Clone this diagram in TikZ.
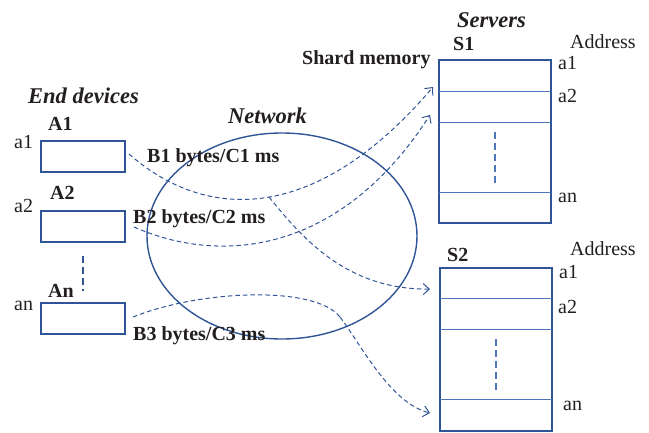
\documentclass[tikz,border=0pt]{standalone}
\usepackage{fontspec}
\setmainfont{Liberation Serif}
\usetikzlibrary{arrows.meta,shapes.geometric}
\definecolor{frame}{HTML}{2F5597}
\definecolor{rowline}{HTML}{4F76B8}
\definecolor{ink}{HTML}{231F20}
\tikzset{
  lbl/.style={inner sep=0, anchor=base west, text=ink, font=\fontsize{20}{24}\selectfont},
  blbl/.style={lbl, font=\bfseries\fontsize{20}{24}\selectfont},
  ttl/.style={lbl, font=\bfseries\itshape\fontsize{22.5}{26}\selectfont},
  devbox/.style={draw=frame, line width=2pt, minimum width=84pt, minimum height=31pt, inner sep=0},
  membox/.style={draw=frame, line width=2pt, minimum width=112pt, minimum height=163pt, inner sep=0},
  rowsep/.style={draw=rowline, line width=1pt},
  gap/.style={draw=rowline, line width=2pt, dash pattern=on 7pt off 4pt},
  flow/.style={draw=frame, line width=1pt, dash pattern=on 4.5pt off 3pt,
               -{Straight Barb[length=6pt,width=11pt]}}
}
\begin{document}
\begin{tikzpicture}[x=1pt,y=-1pt]
\useasboundingbox (0,0) rectangle (649,432);

% network cloud
\node[draw=frame, line width=1.4pt, ellipse, minimum width=270pt, minimum height=206pt, inner sep=0] (net) at (282,236) {};
\node[ttl] (nettitle) at (228,123) {Network};

% end devices
\node[ttl] (devtitle) at (28,103) {End devices};
\node[devbox] (A1) at (83,156.5) {};
\node[devbox] (A2) at (83,226) {};
\node[devbox] (An) at (83,318.5) {};
\node[blbl] (A1lbl) at (48,130) {A1};
\node[blbl] (A2lbl) at (50,199) {A2};
\node[blbl] (Anlbl) at (48,297) {An};
\node[lbl] (a1lbl) at (14,148) {a1};
\node[lbl] (a2lbl) at (14,212) {a2};
\node[lbl] (anlbl) at (14,310) {an};
\draw[draw=frame, line width=2pt, dash pattern=on 7pt off 4pt] (83,256) -- (83,291);

% servers
\node[ttl] (srvtitle) at (457,27) {Servers};
\node[membox] (S1) at (495,141.5) {};
\node[membox] (S2) at (496,349) {};
\node[blbl] (S1lbl) at (453,50) {S1};
\node[blbl] (S2lbl) at (447,261) {S2};
\node[blbl] (shard) at (302,64) {Shard memory};

\draw[rowsep] (439,91) -- (551,91);
\draw[rowsep] (439,122) -- (551,122);
\draw[rowsep] (439,192) -- (551,192);
\draw[gap] (495,132) -- (495,186);
\draw[rowsep] (440,298) -- (552,298);
\draw[rowsep] (440,329) -- (552,329);
\draw[rowsep] (440,399) -- (552,399);
\draw[gap] (496,339) -- (496,393);

\node[lbl] (addr1) at (570,48) {Address};
\node[lbl] (s1a1) at (558,69) {a1};
\node[lbl] (s1a2) at (558,102) {a2};
\node[lbl] (s1an) at (558,202) {an};
\node[lbl] (addr2) at (570,255) {Address};
\node[lbl] (s2a1) at (559,278) {a1};
\node[lbl] (s2a2) at (558,313) {a2};
\node[lbl] (s2an) at (563,410) {an};

% rates
\node[blbl] (r1) at (147,162) {B1 bytes/C1 ms};
\node[blbl] (r2) at (133,223) {B2 bytes/C2 ms};
\node[blbl] (r3) at (133,340) {B3 bytes/C3 ms};

% flow ends
\coordinate (t1) at (433,87);
\coordinate (t2) at (430,115);
\coordinate (t3) at (430,289);
\coordinate (t4) at (430,413);
\coordinate (br) at (269,197);

\draw[flow] ([xshift=3pt,yshift=2.5pt]A1.east) .. controls (210,225) and (320,220) .. (t1);
\draw[flow] (br) .. controls (300,235) and (345,290) .. (t3);
\draw[flow] ([xshift=8pt,yshift=-1pt]A2.east) .. controls (220,265) and (340,255) .. (t2);
\draw[flow, -] ([xshift=7pt,yshift=1.5pt]An.east) .. controls (200,290) and (315,285) .. (340,317);
\draw[flow] (340,317) .. controls (360,343) and (390,403) .. (t4);
\end{tikzpicture}
\end{document}
